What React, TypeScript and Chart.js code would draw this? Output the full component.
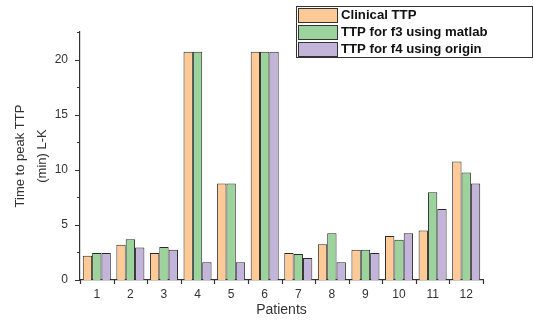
import React, { useEffect, useRef } from "react";
import { Chart, registerables } from "chart.js";

Chart.register(...registerables);

const categories = ["1", "2", "3", "4", "5", "6", "7", "8", "9", "10", "11", "12"];
const clinicalTTP = [2.2, 3.2, 2.45, 20.7, 8.75, 20.7, 2.45, 3.25, 2.75, 4.0, 4.5, 10.75];
const f3Matlab = [2.45, 3.7, 3.0, 20.7, 8.75, 20.7, 2.35, 4.25, 2.75, 3.65, 7.95, 9.75];
const f4Origin = [2.45, 2.95, 2.75, 1.6, 1.6, 20.7, 2.0, 1.6, 2.45, 4.25, 6.45, 8.75];
const seriesNames = ["Clinical TTP", "TTP for f3 using matlab", "TTP for f4 using origin"];
const seriesColors = ["#FFCA96", "#9CD39C", "#C3B4DA"];
const yTitle = ["Time to peak TTP", "(min) L-K"];
const xTitle = "Patients";

const FONT = "'Liberation Sans', Arial, sans-serif";

const axisTicksPlugin = {
  id: "axisTicks",
  afterDraw(chart: any) {
    const ctx = chart.ctx;
    const y = chart.scales.y;
    const x = chart.scales.x;
    const area = chart.chartArea;
    ctx.save();
    ctx.strokeStyle = "#333";
    ctx.lineWidth = 1.2;
    ctx.beginPath();
    y.ticks.forEach((t: any) => {
      const py = Math.round(y.getPixelForValue(t.value)) + 0.5;
      const len = t.value % 5 === 0 ? 5 : 3;
      ctx.moveTo(area.left, py);
      ctx.lineTo(area.left - len, py);
    });
    const n = categories.length;
    for (let i = 0; i <= n; i++) {
      const px = i === 0 ? area.left : i === n ? area.right : (x.getPixelForValue(i - 1) + x.getPixelForValue(i)) / 2;
      ctx.moveTo(Math.round(px) + 0.5, area.bottom);
      ctx.lineTo(Math.round(px) + 0.5, area.bottom + 4);
    }
    ctx.stroke();
    ctx.restore();
  },
};

const legendPlugin = {
  id: "boxLegend",
  afterDraw(chart: any) {
    const ctx = chart.ctx;
    const area = chart.chartArea;
    const bx = area.right - 187;
    const by = 6;
    const bw = 236;
    const rowH = 17;
    ctx.save();
    ctx.fillStyle = "#fff";
    ctx.fillRect(bx, by, bw, rowH * 3);
    ctx.strokeStyle = "#333";
    ctx.lineWidth = 1;
    ctx.strokeRect(bx + 0.5, by + 0.5, bw, rowH * 3);
    ctx.font = `bold 13.2px ${FONT}`;
    ctx.textBaseline = "middle";
    seriesNames.forEach((name, i) => {
      const ry = by + i * rowH;
      ctx.fillStyle = seriesColors[i];
      ctx.fillRect(bx + 2, ry + 2, 39, rowH - 3);
      ctx.strokeStyle = "#333";
      ctx.strokeRect(bx + 2.5, ry + 2.5, 39, rowH - 3);
      ctx.fillStyle = "#111";
      ctx.fillText(name, bx + 45, ry + rowH / 2 + 1);
    });
    ctx.restore();
  },
};

export default function App() {
  const ref = useRef<HTMLCanvasElement>(null);
  useEffect(() => {
    if (!ref.current) return;
    const datasets = [clinicalTTP, f3Matlab, f4Origin].map((d, i) => ({
      label: seriesNames[i],
      data: d,
      backgroundColor: seriesColors[i],
      borderColor: "#2a2a2a",
      borderWidth: 1,
      categoryPercentage: 0.835,
      barPercentage: 1.0,
    }));
    const chart = new Chart(ref.current, {
      type: "bar",
      data: { labels: categories, datasets },
      options: {
        animation: false,
        responsive: false,
        maintainAspectRatio: false,
        layout: { padding: { top: 32, right: 50, left: 0, bottom: 0 } },
        plugins: { legend: { display: false }, tooltip: { enabled: false } },
        scales: {
          x: {
            afterFit: (s: any) => { s.height = 43; },
            grid: { display: false, drawTicks: false },
            border: { display: true, color: "#333", width: 1.2 },
            ticks: { color: "#333", font: { family: FONT, size: 12 }, padding: 7 },
            title: {
              display: true,
              text: xTitle,
              color: "#333",
              font: { family: FONT, size: 14 },
              padding: { top: 0, bottom: 4 },
            },
          },
          y: {
            min: 0,
            max: 22.5,
            afterFit: (s: any) => { s.width = 80; },
            grid: { display: false, drawTicks: false },
            border: { display: true, color: "#333", width: 1.2 },
            ticks: {
              stepSize: 2.5,
              color: "#333",
              font: { family: FONT, size: 12 },
              padding: 12,
              callback: (v: any) => (Number(v) % 5 === 0 ? String(v) : ""),
            },
            title: {
              display: true,
              text: yTitle,
              color: "#333",
              font: { family: FONT, size: 13, lineHeight: 1.7 },
              padding: { top: 9, bottom: 0 },
            },
          },
        },
      },
      plugins: [axisTicksPlugin, legendPlugin],
    });
    return () => chart.destroy();
  }, []);
  return (
    <div style={{ position: "absolute", left: 0, top: 0, width: 533, height: 323, background: "#fff" }}>
      <canvas ref={ref} width={533} height={323} style={{ width: 533, height: 323 }} />
    </div>
  );
}
